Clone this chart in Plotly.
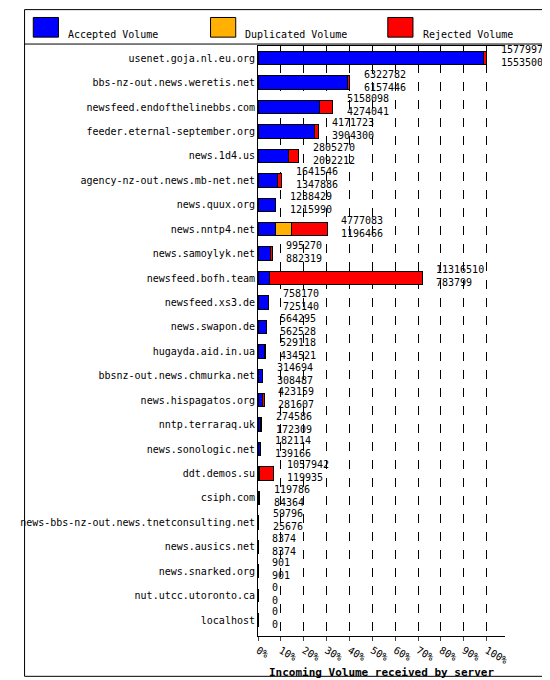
import plotly.graph_objects as go

hosts = ["usenet.goja.nl.eu.org", "bbs-nz-out.news.weretis.net", "newsfeed.endofthelinebbs.com",
         "feeder.eternal-september.org", "news.1d4.us", "agency-nz-out.news.mb-net.net",
         "news.quux.org", "news.nntp4.net", "news.samoylyk.net", "newsfeed.bofh.team",
         "newsfeed.xs3.de", "news.swapon.de", "hugayda.aid.in.ua", "bbsnz-out.news.chmurka.net",
         "news.hispagatos.org", "nntp.terraraq.uk", "news.sonologic.net", "ddt.demos.su",
         "csiph.com", "news-bbs-nz-out.news.tnetconsulting.net", "news.ausics.net",
         "news.snarked.org", "nut.utcc.utoronto.ca", "localhost"]
total = [15779972, 6322782, 5158098, 4171723, 2805270, 1641546, 1238429, 4777083, 995270,
         11316510, 758170, 564295, 529118, 314694, 423159, 274586, 182114, 1057942, 119786,
         59796, 8374, 901, 0, 0]
accepted = [15535007, 6157446, 4274041, 3904300, 2092212, 1347886, 1215990, 1196466, 882319,
            783799, 725140, 562528, 434521, 308487, 281607, 172309, 139166, 119935, 84364,
            25676, 8374, 901, 0, 0]
duplicated = [0, 0, 0, 0, 0, 0, 22439, 1100000, 0, 0, 0, 0, 0, 0, 0, 102277, 42948, 0, 0,
              34120, 0, 0, 0, 0]
rejected = [t - a - d for t, a, d in zip(total, accepted, duplicated)]
tick_labels = ["0%", "10%", "20%", "30%", "40%", "50%", "60%", "70%", "80%", "90%", "100%"]
series = [("Accepted Volume", accepted, "#0000ff"),
          ("Duplicated Volume", duplicated, "#ffb000"),
          ("Rejected Volume", rejected, "#ff0000")]

W, H, L, R, T, B = 550, 680, 242, 53, 38, 42
PW, PH = W - L - R, H - T - B
px = lambda v: (v - L) / PW
py = lambda v: (H - B - v) / PH

mx = max(total)
font = "DejaVu Sans Mono"
fig = go.Figure()
for name, vals, col in series:
    fig.add_bar(y=hosts, x=vals, name=name, orientation="h", showlegend=False,
                marker=dict(color=col, line=dict(color="black", width=1)), width=0.55)

for h, t, a in zip(hosts, total, accepted):
    fig.add_annotation(x=t, y=h, text=f"{t}<br>{a}", xanchor="left", showarrow=False,
                       xshift=12, yshift=2, align="left", font=dict(family=font, size=10, color="black"))

shapes = [dict(type="rect", xref="paper", yref="paper", x0=px(1), x1=px(W - 1), y0=py(H - 1),
               y1=py(1), line=dict(color="black", width=1)),
          dict(type="line", xref="paper", yref="paper", x0=px(1), x1=px(W - 1), y0=py(36),
               y1=py(36), line=dict(color="black", width=1))]
for i, (name, vals, col) in enumerate(series):
    x0 = 10 + i * 183
    shapes.append(dict(type="rect", xref="paper", yref="paper", x0=px(x0), x1=px(x0 + 26),
                       y0=py(29), y1=py(9), fillcolor=col, line=dict(color="black", width=1)))
    fig.add_annotation(xref="paper", yref="paper", x=px(x0 + 34), y=py(19), text=name,
                       xanchor="left", showarrow=False, font=dict(family=font, size=10))

fig.update_layout(
    width=W, height=H, barmode="stack", plot_bgcolor="white", paper_bgcolor="white",
    margin=dict(l=L, r=R, t=T, b=B), showlegend=False,
    font=dict(family=font, size=10, color="black"),
    xaxis=dict(range=[0, mx * 1.08], tickvals=[mx * i / 10 for i in range(11)], ticktext=tick_labels,
               showgrid=True, gridcolor="black", griddash="dash", gridwidth=1, zeroline=False,
               showline=True, linecolor="black", mirror=True, ticks="outside", ticklen=4,
               title=dict(text="<b>Incoming Volume received by server</b>", standoff=2,
                          font=dict(family=font, size=11))),
    yaxis=dict(autorange="reversed", showline=True, linecolor="black", ticks="",
               tickfont=dict(family=font, size=10, color="black")),
    shapes=shapes,
)
fig.write_html("out.html")
